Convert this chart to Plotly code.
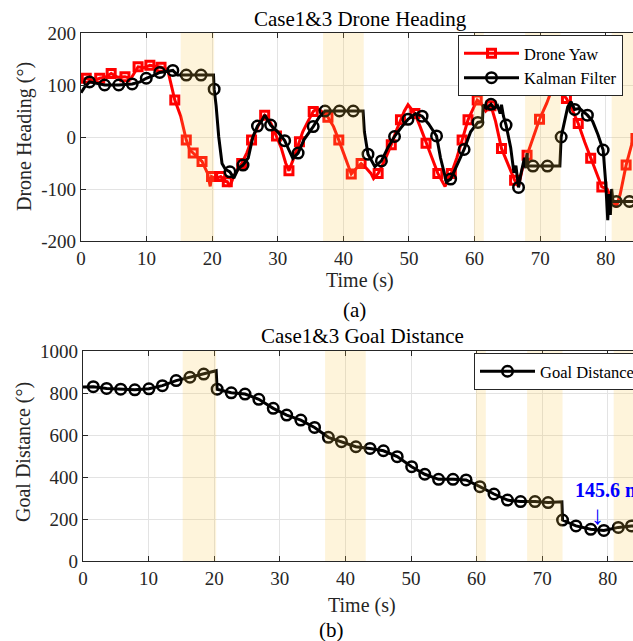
import plotly.graph_objects as go

# ---------------------------------------------------------------- data
# windows where the target was lost and the filter coasted (s)
occl_start = [15.2, 36.9, 59.9, 67.7, 80.9]
occl_end = [20.3, 43.1, 61.4, 73.1, 85.0]

# drone yaw (deg), full polyline
yaw_t = [0, 0.8, 1.8, 2.85, 3.7, 4.6, 5.6, 6.7, 7.6, 8.7,
         9.6, 10.5, 11.3, 12.2, 13.2, 14.3, 15.2, 16.05, 16.6, 17.1,
         17.8, 18.45, 19.3, 19.7, 19.9, 20.5, 21.3, 21.8, 22.3, 22.7,
         23.3, 24.0, 24.5, 25.3, 26.0, 26.8, 27.3, 28.0, 28.4, 29.0,
         29.8, 30.5, 31.2, 31.7, 32.3, 33.3, 33.8, 34.6, 35.4, 36.0,
         36.6, 37.65, 38.5, 39.3, 40.2, 41.2, 42.0, 42.7, 43.5, 44.2,
         44.6, 45.3, 46.3, 47.3, 48.0, 48.7, 49.3, 49.85, 50.3, 50.9,
         51.7, 52.6, 53.5, 54.4, 55.5, 56.45, 57.3, 58.1, 59.0, 59.8,
         60.4, 61.0, 61.7, 62.5, 63.2, 64.1, 65.2, 66.1, 66.7, 67.3,
         68.0, 69.0, 69.9, 71.0, 71.95, 73.0, 74.0, 74.8, 75.8, 76.8,
         77.7, 78.6, 79.4, 80.2, 81.0, 81.6, 82.2, 83.1, 84.0, 85.0]
yaw_deg = [108, 113, 108, 113, 115, 122, 115, 116, 112, 135,
           133, 138, 136, 134, 130, 71, 40, -6, -25, -31,
           -38, -47, -70, -95, -76, -80, -76, -85, -86, -95,
           -75, -60, -51, -30, -6, 15, 30, 42, 38, 25,
           2, -20, -50, -65, -45, -9, 10, 30, 49, 55,
           50, 38, 20, -6, -35, -71, -60, -51, -60, -70,
           -80, -70, -45, -15, 10, 33, 50, 62, 55, 45,
           20, -12, -40, -70, -95, -70, -40, -6, 33, 55,
           71, 65, 50, 60, 30, -22, -55, -83, -95, -60,
           -35, 0, 34, 65, 97, 90, 74, 55, 26, -10,
           -41, -70, -96, -100, -120, -135, -110, -54, -12, 10]
# samples shown with square markers
yaw_mark_t = [0.8, 2.85, 4.6, 6.7, 8.7, 10.5, 12.2, 14.3, 16.05, 17.1,
              18.45, 19.9, 21.3, 22.3, 24.5, 26.0, 28.0, 29.8, 31.7, 33.3,
              35.4, 37.65, 39.3, 41.2, 42.7, 45.3, 47.3, 48.7, 50.9, 52.6,
              54.4, 56.45, 58.1, 59.0, 60.4, 62.5, 64.1, 66.1, 68.0, 69.9,
              71.95, 74.0, 75.8, 77.7, 79.4, 83.1, 84.6]
yaw_mark_deg = [113, 113, 122, 116, 135, 138, 134, 71, -6, -31,
                -47, -76, -76, -86, -51, -6, 42, 2, -65, -9,
                49, 38, -6, -71, -51, -70, -15, 33, 45, -12,
                -70, -70, -6, 33, 71, 60, -22, -83, -35, 34,
                97, 74, 26, -41, -96, -54, -3]

# Kalman filter heading estimate (deg)
kf_t = [0, 0.5, 1.3, 2.3, 3.6, 5.75, 7.8, 9.0, 9.95, 11.0,
        12.0, 13.0, 14.0, 14.7, 16.05, 18.3, 20.2, 20.3, 20.6, 21.0,
        21.5, 22.0, 22.7, 23.3, 24.0, 24.7, 25.5, 26.2, 26.9, 27.5,
        28.0, 28.5, 28.9, 30.0, 31.05, 31.7, 32.3, 33.1, 34.0, 35.4,
        36.3, 37.2, 39.4, 41.5, 43.0, 43.2, 43.75, 44.8, 45.8, 46.8,
        47.8, 48.8, 49.85, 51.0, 52.0, 53.0, 54.2, 54.8, 55.7, 56.35,
        57.3, 58.4, 59.4, 60.5, 61.2, 61.3, 61.8, 62.5, 63.0, 63.5,
        63.9, 64.1, 64.4, 64.8, 65.5, 66.0, 66.3, 66.5, 66.7, 67.0,
        67.3, 67.6, 67.8, 68.0, 68.1, 68.9, 71.1, 73.0, 73.2, 73.7,
        74.2, 74.7, 75.25, 76.0, 77.2, 78.0, 78.8, 79.6, 80.0, 80.3,
        80.5, 80.7, 80.9, 81.1, 81.6, 83.6, 85.0]
kf_deg = [85, 95, 106, 103, 100, 100, 102, 106, 113, 118,
          124, 126, 128, 119, 119, 119, 119, 92, 60, 0,
          -51, -62, -67, -79, -60, -54, -40, 0, 21, 30,
          42, 32, 23, 10, -7, -25, -41, -31, -5, 20,
          38, 50, 50, 50, 50, 10, -33, -57, -46, -20,
          1, 18, 34, 45, 40, 25, 2, -40, -86, -81,
          -55, -24, 10, 28, 30, 62, 55, 63, 55, 60,
          45, 62, 40, 23, -20, -69, -55, -80, -97, -75,
          -60, -40, -60, -31, -56, -56, -56, -56, 0, 30,
          58, 68, 53, 55, 42, 30, 5, -25, -90, -160,
          -110, -150, -100, -124, -124, -124, -124]
kf_mark_t = [1.3, 3.6, 5.75, 7.8, 9.95, 12.0, 14.0, 16.05, 18.3, 20.3,
             22.7, 24.7, 26.9, 28.9, 31.05, 33.1, 35.4, 37.2, 39.4, 41.5,
             43.75, 45.8, 47.8, 49.85, 52.0, 54.2, 56.35, 58.4, 60.5, 62.5,
             64.8, 66.7, 68.9, 71.1, 73.2, 75.25, 77.2, 79.6, 81.6, 83.6]
kf_mark_deg = [106, 100, 100, 102, 113, 124, 128, 119, 119, 92,
               -67, -54, 21, 23, -7, -31, 20, 50, 50, 50,
               -33, -46, 1, 34, 40, 2, -81, -24, 28, 63,
               23, -97, -56, -56, 0, 53, 42, -25, -124, -124]

# distance to goal
goal_t = [0, 1.57, 3.6, 5.75, 7.9, 10.05, 12.1, 14.2, 16.3, 18.4,
          20.3, 20.45, 22.6, 24.7, 26.8, 29.0, 31.05, 33.2, 35.3, 37.4,
          39.4, 41.6, 43.75, 45.8, 47.9, 50.1, 52.1, 54.2, 56.4, 58.4,
          60.5, 62.65, 64.7, 66.7, 68.9, 70.9, 73.0, 73.1, 75.15, 77.4,
          79.4, 81.6, 83.6, 85.0]
goal_dist = [828, 830, 822, 818, 815, 820, 835, 859, 875, 890,
             906, 818, 801, 795, 770, 727, 695, 671, 636, 589,
             568, 544, 536, 525, 497, 449, 413, 389, 389, 386,
             354, 319, 290, 283, 283, 278, 282, 195, 167, 151,
             145.6, 160, 167, 168]
goal_mark_t = [1.57, 3.6, 5.75, 7.9, 10.05, 12.1, 14.2, 16.3, 18.4, 20.45,
               22.6, 24.7, 26.8, 29.0, 31.05, 33.2, 35.3, 37.4, 39.4, 41.6,
               43.75, 45.8, 47.9, 50.1, 52.1, 54.2, 56.4, 58.4, 60.5, 62.65,
               64.7, 66.7, 68.9, 70.9, 73.1, 75.15, 77.4, 79.4, 81.6, 83.6]
goal_mark_dist = [830, 822, 818, 815, 820, 835, 859, 875, 890, 818,
                  801, 795, 770, 727, 695, 671, 636, 589, 568, 544,
                  536, 525, 497, 449, 413, 389, 389, 386, 354, 319,
                  290, 283, 283, 278, 195, 167, 151, 145.6, 160, 167]

time_ticks = [0, 10, 20, 30, 40, 50, 60, 70, 80]
heading_ticks = [-200, -100, 0, 100, 200]
dist_ticks = [0, 200, 400, 600, 800, 1000]

# ---------------------------------------------------------------- style
W, H = 633, 641
FONT = "Liberation Serif"
AX = "#262626"
RED = "rgb(255,0,0)"
BLK = "rgb(0,0,0)"
SHADE = "rgba(250,200,75,0.2)"
GRID = "#e3e3e3"


def fx(p):
    return p / W


def fy(p):
    return 1 - p / H


def axis(**kw):
    d = dict(showline=True, linecolor=AX, linewidth=1.2, automargin=False,
             ticks="inside", ticklen=5, tickwidth=1, tickcolor=AX,
             showgrid=True, gridcolor=GRID, gridwidth=1, zeroline=False,
             tickfont=dict(family=FONT, size=19, color=AX))
    d.update(kw)
    return d


fig = go.Figure()

yaw_line = dict(color=RED, width=3)
yaw_marker = dict(symbol="square-open", size=8, color=RED, line=dict(width=3, color=RED))
kf_line = dict(color=BLK, width=3)
kf_marker = dict(symbol="circle-open", size=10.5, color=BLK, line=dict(width=2.5, color=BLK))

# (a) heading
fig.add_trace(go.Scatter(x=yaw_t, y=yaw_deg, mode="lines", line=yaw_line,
                         showlegend=False, xaxis="x", yaxis="y", hoverinfo="skip"))
fig.add_trace(go.Scatter(x=yaw_mark_t, y=yaw_mark_deg, mode="markers", marker=yaw_marker,
                         showlegend=False, xaxis="x", yaxis="y"))
fig.add_trace(go.Scatter(x=kf_t, y=kf_deg, mode="lines", line=kf_line,
                         showlegend=False, xaxis="x", yaxis="y", hoverinfo="skip"))
fig.add_trace(go.Scatter(x=kf_mark_t, y=kf_mark_deg, mode="markers", marker=kf_marker,
                         showlegend=False, xaxis="x", yaxis="y"))
fig.add_trace(go.Scatter(x=[None], y=[None], mode="lines+markers", name="Drone Yaw",
                         line=yaw_line, marker=yaw_marker, xaxis="x", yaxis="y",
                         legend="legend"))
fig.add_trace(go.Scatter(x=[None], y=[None], mode="lines+markers", name="Kalman Filter",
                         line=kf_line, marker=kf_marker, xaxis="x", yaxis="y",
                         legend="legend"))

# (b) goal distance
fig.add_trace(go.Scatter(x=goal_t, y=goal_dist, mode="lines", line=kf_line,
                         showlegend=False, xaxis="x2", yaxis="y2", hoverinfo="skip"))
fig.add_trace(go.Scatter(x=goal_mark_t, y=goal_mark_dist, mode="markers", marker=kf_marker,
                         showlegend=False, xaxis="x2", yaxis="y2"))
fig.add_trace(go.Scatter(x=[None], y=[None], mode="lines+markers", name="Goal Distance",
                         line=kf_line, marker=kf_marker, xaxis="x2", yaxis="y2",
                         legend="legend2"))

# occlusion windows, tinted over the data
shapes = []
for xr, yr in (("x", "y domain"), ("x2", "y2 domain")):
    for s, e in zip(occl_start, occl_end):
        shapes.append(dict(type="rect", xref=xr, yref=yr, x0=s, x1=e, y0=0, y1=1,
                           fillcolor=SHADE, line=dict(width=0), layer="above"))

# minimum goal distance callout
i_min = min(range(len(goal_mark_dist)), key=lambda i: goal_mark_dist[i])
t_min, d_min = goal_mark_t[i_min], goal_mark_dist[i_min]


def label(text, x, y, size, color=AX, angle=0):
    return dict(text=text, x=fx(x), y=fy(y), xref="paper", yref="paper",
                xanchor="center", yanchor="middle", showarrow=False, textangle=angle,
                font=dict(family=FONT, size=size, color=color))


annotations = [
    label("Case1&3 Drone Heading", 360, 19, 21, "black"),
    label("Time (s)", 360, 280, 20),
    label("(a)", 354, 310, 21, "black"),
    label("Drone Heading (°)", 24, 137, 20, angle=-90),
    label("Case1&3 Goal Distance", 362, 336, 21, "black"),
    label("Time (s)", 362, 605, 20),
    label("(b)", 331, 630, 21, "black"),
    label("Goal Distance (°)", 23, 452, 20, angle=-90),
    dict(text=f"<b>{d_min:.1f} m</b>", x=t_min, y=d_min, xref="x2", yref="y2",
         xanchor="left", yanchor="middle", xshift=-31, yshift=40, showarrow=False,
         font=dict(family=FONT, size=20, color="rgb(0,0,255)")),
    dict(text="↓", x=t_min, y=d_min, xref="x2", yref="y2",
         xanchor="center", yanchor="middle", xshift=-6, yshift=15, showarrow=False,
         font=dict(family=FONT, size=26, color="rgb(0,0,255)")),
]

legend_common = dict(xanchor="left", yanchor="top", bgcolor="white",
                     bordercolor=AX, borderwidth=1, tracegroupgap=0, itemwidth=55,
                     font=dict(family=FONT, size=16.5, color="black"))

fig.update_layout(
    width=W, height=H,
    margin=dict(l=0, r=0, t=0, b=0, autoexpand=False),
    paper_bgcolor="white", plot_bgcolor="white",
    font=dict(family=FONT, color=AX),
    xaxis=axis(domain=[fx(81), 1], range=[0, 84.15], anchor="y", mirror="ticks",
               tickvals=time_ticks, ticktext=[str(v) for v in time_ticks]),
    yaxis=axis(domain=[fy(241), fy(33)], range=[-200, 200], anchor="x",
               tickvals=heading_ticks, ticktext=[str(v) for v in heading_ticks]),
    xaxis2=axis(domain=[fx(83), 1], range=[0, 83.84], anchor="y2", mirror="ticks",
                tickvals=time_ticks, ticktext=[str(v) for v in time_ticks]),
    yaxis2=axis(domain=[fy(561), fy(351)], range=[0, 1000], anchor="x2",
                tickvals=dist_ticks, ticktext=[str(v) for v in dist_ticks]),
    legend=dict(x=fx(458), y=fy(35), **legend_common),
    legend2=dict(x=fx(474), y=fy(353), **legend_common),
    shapes=shapes,
    annotations=annotations,
)

fig.write_html("out.html")
